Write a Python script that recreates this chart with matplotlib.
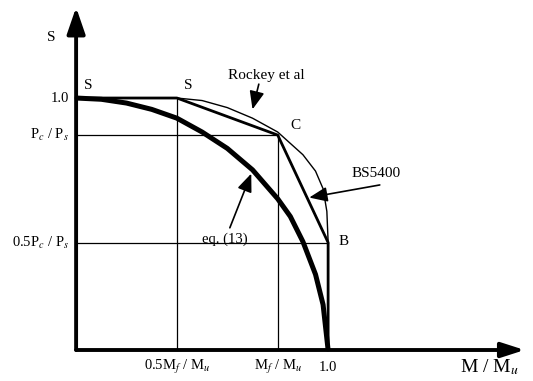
import matplotlib
matplotlib.use("Agg")
import matplotlib.pyplot as plt

plt.rcParams['font.family'] = ['Liberation Serif', 'DejaVu Serif']
plt.rcParams['mathtext.fontset'] = 'stix'

# key values (normalised)
mf = 0.80          # Mf / Mu
pc = 0.853         # Pc / Ps

# eq.(13) interaction curve
eq_x = [0.0, 0.1, 0.2, 0.3, 0.4, 0.5, 0.6, 0.7, 0.8, 0.85, 0.9, 0.95, 0.98, 1.0]
eq_y = [1.0, 0.995, 0.98, 0.955, 0.92, 0.865, 0.80, 0.715, 0.60, 0.53, 0.43, 0.30, 0.18, 0.0]

# Rockey et al curve
rk_x = [0.4, 0.5, 0.6, 0.7, 0.8, 0.9, 0.95, 0.98, 0.995, 1.0, 1.0]
rk_y = [1.0, 0.99, 0.962, 0.92, 0.865, 0.775, 0.71, 0.64, 0.55, 0.43, 0.0]

# BS5400 polyline S - S - C - B
bs_x = [0.0, 0.5 * mf, mf, 1.0, 1.0]
bs_y = [1.0, 1.0, pc, 0.5 * pc, 0.0]

fig = plt.figure(figsize=(5.33, 3.81), dpi=100)
ax = fig.add_axes([0, 0, 1, 1])
ax.set_xlim(-0.302, 1.813)
ax.set_ylim(-0.123, 1.389)
ax.axis('off')

# thin guide lines
ax.plot([0, mf], [pc, pc], color='black', lw=0.9)
ax.plot([0, 1.0], [0.5 * pc, 0.5 * pc], color='black', lw=0.9)
ax.plot([0.5 * mf, 0.5 * mf], [0, 1.0], color='black', lw=0.9)
ax.plot([mf, mf], [0, pc], color='black', lw=0.9)

ax.plot(rk_x, rk_y, color='black', lw=1.0)
ax.plot(bs_x, bs_y, color='black', lw=2.0)
ax.plot(eq_x, eq_y, color='black', lw=3.6, solid_capstyle='butt')

# axes with arrow heads
ax.annotate('', xy=(0, 1.36), xytext=(0, 0),
            arrowprops=dict(arrowstyle='-|>,head_length=1.6,head_width=0.55',
                            color='black', lw=2.8, shrinkA=0, shrinkB=0))
ax.annotate('', xy=(1.78, 0), xytext=(0, 0),
            arrowprops=dict(arrowstyle='-|>,head_length=1.4,head_width=0.45',
                            color='black', lw=2.8, shrinkA=0, shrinkB=0))

# tick labels
fs = 10.5
ax.text(-0.028, 1.0, '1.0', ha='right', va='center', fontsize=fs)
ax.text(-0.028, pc, r'P$_c$ / P$_s$', ha='right', va='center', fontsize=fs)
ax.text(-0.028, 0.5 * pc, r'0.5P$_c$ / P$_s$', ha='right', va='center', fontsize=fs)
ax.text(0.5 * mf, -0.068, r'0.5M$_f$ / M$_u$', ha='center', va='center', fontsize=fs)
ax.text(mf, -0.068, r'M$_f$ / M$_u$', ha='center', va='center', fontsize=fs)
ax.text(1.0, -0.068, '1.0', ha='center', va='center', fontsize=fs)
ax.text(1.64, -0.068, r'M / M$_u$', ha='center', va='center', fontsize=14)
ax.text(-0.1, 1.24, 'S', ha='center', va='center', fontsize=11)

# point labels
ax.text(0.05, 1.05, 'S', ha='center', va='center', fontsize=11)
ax.text(0.445, 1.05, 'S', ha='center', va='center', fontsize=11)
ax.text(0.87, 0.89, 'C', ha='center', va='center', fontsize=11)
ax.text(1.04, 0.43, 'B', ha='left', va='center', fontsize=11)

# curve labels with arrows
arrow = dict(arrowstyle='-|>,head_length=1.1,head_width=0.45',
             color='black', lw=1.2, shrinkA=0, shrinkB=0)
ax.text(0.755, 1.09, 'Rockey et al', ha='center', va='center', fontsize=11)
ax.annotate('', xy=(0.70, 0.955), xytext=(0.725, 1.055), arrowprops=arrow)
ax.text(1.19, 0.70, 'BS5400', ha='center', va='center', fontsize=11)
ax.annotate('', xy=(0.925, 0.605), xytext=(1.205, 0.655), arrowprops=arrow)
ax.text(0.59, 0.44, 'eq. (13)', ha='center', va='center', fontsize=10.5)
ax.annotate('', xy=(0.695, 0.70), xytext=(0.61, 0.485), arrowprops=arrow)

fig.savefig('out.png', dpi=100)
